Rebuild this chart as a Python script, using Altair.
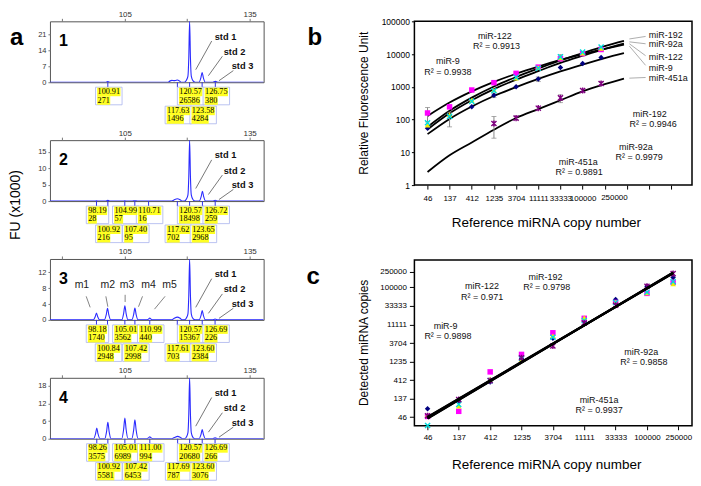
import altair as alt
import pandas as pd

# ------------------------------------------------------------------ data
# Panel a: electropherogram traces (size in nt, FU x1000)
A1_X = [87, 100.3, 100.91, 101.5, 115.4, 115.9, 116.3, 116.8, 117.2, 117.63, 118.1, 118.5,
        119.3, 119.8, 120.17, 120.37, 120.57, 120.77, 120.97, 121.4, 121.9,
        122.83, 123.28, 123.58, 123.88, 124.33, 126.15, 126.75, 127.35, 138.36]
A1_Y = [0, 0, 0.27, 0, 0, 0.6, 0.8, 0.7, 0.8, 1.0, 0.6, 0,
        0, 0.9, 2.7, 10.7, 26.8, 10.7, 2.7, 0.6, 0,
        0, 1.93, 4.28, 1.93, 0, 0, 0.38, 0, 0]
A2_X = [87, 97.6, 98.19, 98.8, 100.3, 100.92, 101.5, 104.4, 104.99, 105.6, 106.8, 107.4, 108.0,
        110.1, 110.71, 111.3, 116.2, 116.8, 117.62, 118.3, 118.8,
        119.3, 119.8, 120.17, 120.37, 120.57, 120.77, 120.97, 121.4, 121.9,
        122.9, 123.35, 123.65, 123.95, 124.4, 126.1, 126.72, 127.3, 138.36]
A2_Y = [0, 0, 0.05, 0, 0, 0.22, 0, 0, 0.06, 0, 0, 0.1, 0,
        0, 0.03, 0, 0, 0.35, 0.7, 0.4, 0,
        0, 0.6, 1.85, 7.4, 18.5, 7.4, 1.85, 0.4, 0,
        0, 1.34, 2.97, 1.34, 0, 0, 0.26, 0, 0]
A3_X = [87, 97.43, 97.88, 98.18, 98.48, 98.93, 100.09, 100.54, 100.84, 101.14, 101.59,
        104.26, 104.71, 105.01, 105.31, 105.76, 106.67, 107.12, 107.42, 107.72, 108.17,
        110.24, 110.69, 110.99, 111.29, 111.74, 116.2, 116.8, 117.61, 118.3, 118.8,
        119.3, 119.8, 120.17, 120.37, 120.57, 120.77, 120.97, 121.4, 121.9,
        122.85, 123.3, 123.6, 123.9, 124.35, 126.1, 126.69, 127.3, 138.36]
A3_Y = [0, 0, 0.78, 1.74, 0.78, 0, 0, 1.33, 2.95, 1.33, 0,
        0, 1.6, 3.56, 1.6, 0, 0, 1.35, 3.0, 1.35, 0,
        0, 0.2, 0.44, 0.2, 0, 0, 0.35, 0.7, 0.4, 0,
        0, 0.5, 1.54, 6.15, 15.37, 6.15, 1.54, 0.3, 0,
        0, 1.07, 2.38, 1.07, 0, 0, 0.23, 0, 0]
A4_X = [87, 97.51, 97.96, 98.26, 98.56, 99.01, 100.17, 100.62, 100.92, 101.22, 101.67,
        104.26, 104.71, 105.01, 105.31, 105.76, 106.67, 107.12, 107.42, 107.72, 108.17,
        110.25, 110.7, 111.0, 111.3, 111.75, 116.3, 116.9, 117.69, 118.35, 118.85,
        119.3, 119.8, 120.17, 120.37, 120.57, 120.77, 120.97, 121.4, 121.9,
        122.85, 123.3, 123.6, 123.9, 124.35, 126.1, 126.69, 127.3, 138.36]
A4_Y = [0, 0, 1.61, 3.58, 1.61, 0, 0, 2.51, 5.58, 2.51, 0,
        0, 3.15, 6.99, 3.15, 0, 0, 2.9, 6.45, 2.9, 0,
        0, 0.3, 0.65, 0.3, 0, 0, 0.4, 0.79, 0.45, 0,
        0, 0.6, 2.07, 8.27, 20.68, 8.27, 2.07, 0.4, 0,
        0, 1.39, 3.08, 1.39, 0, 0, 0.27, 0, 0]
A_X = [A1_X, A2_X, A3_X, A4_X]
A_Y = [A1_Y, A2_Y, A3_Y, A4_Y]
A_YMAX = [26.8, 18.5, 15.37, 20.68]
A_YTICKS = [[0, 7, 14, 21], [0, 5, 10, 15], [0, 4, 8, 12], [0, 6, 12, 18]]
A_TOPTICKS = [90, 105, 120, 135]
A_TOPLABELS = [105, 135]
# peak-call boxes: (size, area, row)
A1_PEAKS = [(100.91, 271, 1), (120.57, 26586, 1), (126.75, 380, 1),
            (117.63, 1496, 2), (123.58, 4284, 2)]
A2_PEAKS = [(98.19, 28, 1), (104.99, 57, 1), (110.71, 16, 1), (120.57, 18498, 1), (126.72, 259, 1),
            (100.92, 216, 2), (107.40, 95, 2), (117.62, 702, 2), (123.65, 2968, 2)]
A3_PEAKS = [(98.18, 1740, 1), (105.01, 3562, 1), (110.99, 440, 1), (120.57, 15367, 1), (126.69, 226, 1),
            (100.84, 2948, 2), (107.42, 2998, 2), (117.61, 703, 2), (123.60, 2384, 2)]
A4_PEAKS = [(98.26, 3575, 1), (105.01, 6989, 1), (111.00, 994, 1), (120.57, 20680, 1), (126.69, 266, 1),
            (100.92, 5581, 2), (107.42, 6453, 2), (117.69, 787, 2), (123.60, 3076, 2)]
A_PEAKS = [A1_PEAKS, A2_PEAKS, A3_PEAKS, A4_PEAKS]
STD_NAMES = ["std 1", "std 2", "std 3"]
M_NAMES = ["m1", "m2", "m3", "m4", "m5"]

# Panels b and c
SERIES = ["miR-9", "miR-122", "miR-192", "miR-92a", "miR-451a"]
COPIES = [46, 137, 412, 1235, 3704, 11111, 33333, 100000, 250000]
TICK_LABELS = ["46", "137", "412", "1235", "3704", "11111", "33333", "100000", "250000"]
B_XTICKS = [46, 137, 412, 1235, 3704, 11111, 33333, 100000, 300000, 900000, 2700000, 8100000]
B_LAST_LABEL_AT = 484000   # where the squeezed "250000" label sits on panel b's axis
B_YTICKS = [1, 10, 100, 1000, 10000, 100000]
B_PTS = {
    "miR-9":    [54, 133, 245, 550, 1000, 1730, 3870, 5150, 7900],
    "miR-122":  [159, 245, 800, 1340, 2580, 4000, 7200, 10300, 13800],
    "miR-192":  [68, 143, 392, 800, 1850, 3870, 7600, 10700, 14800],
    "miR-92a":  [80, 125, 360, 760, 1950, 3700, 8200, 11500, 16500],
    "miR-451a": [None, None, None, 76, 111, 223, 460, 770, 1260],
}
B_FIT_X = [46, 137, 412, 1235, 3704, 11111, 33333, 100000, 300000, 776000]
B_FIT = {
    "miR-9":    [36, 105, 251, 525, 977, 1738, 2951, 4786, 7586, 10715],
    "miR-122":  [129, 331, 724, 1413, 2512, 4169, 6607, 10000, 14454, 19498],
    "miR-192":  [60, 186, 468, 1023, 1995, 3631, 6457, 10715, 17378, 25119],
    "miR-92a":  [50, 155, 389, 851, 1660, 3020, 5370, 8913, 14454, 20893],
    "miR-451a": [2.5, 8.1, 20, 49, 112, 209, 389, 724, 1202, 1778],
}
B_ERR = [("miR-122", 46, 85, 234), ("miR-192", 137, 60, 167), ("miR-451a", 1235, 27, 124),
         ("miR-92a", 33333, 6700, 9600), ("miR-451a", 33333, 330, 570), ("miR-9", 11111, 1450, 2000),
         ("miR-451a", 250000, 1100, 1420), ("miR-451a", 3704, 98, 128), ("miR-9", 1235, 470, 640)]
B_R2 = {"miR-9": "0.9938", "miR-122": "0.9913", "miR-192": "0.9946", "miR-92a": "0.9979", "miR-451a": "0.9891"}
B_END_ORDER = ["miR-192", "miR-92a", "miR-122", "miR-9", "miR-451a"]

C_XTICKS = [46, 137, 412, 1235, 3704, 11111, 33333, 100000, 300000]
C_YTICKS = [46, 137, 412, 1235, 3704, 11111, 33333, 100000, 250000]
C_PTS = {
    "miR-9":    [76, 118, 368, 1500, 4900, 13000, 49000, 107000, 180000],
    "miR-122":  [48, 65, 672, 1890, 6800, 16000, 41000, 70000, 134000],
    "miR-192":  [52, 88, 440, 1380, 5700, 16600, 42000, 72000, 123000],
    "miR-92a":  [28, 98, 400, 1500, 5200, 14000, 41000, 75000, 140000],
    "miR-451a": [50, 130, 400, 1550, 3100, 12100, 34700, 107000, 225000],
}
C_FIT_X = [46, 250000]
C_FIT = {"miR-9": [46, 228000], "miR-122": [42, 240000], "miR-192": [44, 235000],
         "miR-92a": [47, 232000], "miR-451a": [43, 242000]}
C_R2 = {"miR-9": "0.9898", "miR-122": "0.971", "miR-192": "0.9798", "miR-92a": "0.9858", "miR-451a": "0.9937"}

# ------------------------------------------------------------------ style / layout
FONT = "Liberation Sans"
SERIF = "Liberation Serif"
WA, HA = 214, 61
WB, HB = 278, 164
WC, HC = 278, 166
XA = (87.0, 138.36)
PPU = WA / (XA[1] - XA[0])
FS = 8.2
LINE_H = 8.6
ROW_BASE = {1: 5.0, 2: 24.0}
SER_COLOR = {"miR-9": "#000080", "miR-122": "#ff00ff", "miR-192": "#eeee00",
             "miR-92a": "#00dddd", "miR-451a": "#800080"}
SER_SHAPE = {"miR-9": "diamond", "miR-122": "square", "miR-192": "triangle-up",
             "miR-92a": "M-1,-1L1,1M-1,1L1,-1", "miR-451a": "M-1,-1L1,1M-1,1L1,-1M0,-1.2L0,1.2"}
SER_FILLED = {"miR-9": True, "miR-122": True, "miR-192": True, "miR-92a": False, "miR-451a": False}
GUARD = pd.DataFrame({"g": [0]})


def text_w(s):
    return sum(0.5 * FS if ch.isdigit() else 0.25 * FS for ch in s)


def label_expr(ticks, labels):
    expr = ""
    for t, l in zip(ticks, labels):
        expr += f"datum.value < {t * 1.02} ? '{l}' : "
    return expr + "''"


def guard(x, y_top):
    return alt.Chart(GUARD).mark_rule(opacity=0, strokeWidth=1).encode(
        x=alt.value(x), y=alt.value(y_top), y2=alt.value(1))


def px_text(df, **kw):
    return alt.Chart(df).mark_text(**kw).encode(
        x=alt.X("px:Q", scale=None), y=alt.Y("py:Q", scale=None), text="t:N")


def px_rule(df, **kw):
    return alt.Chart(df).mark_rule(**kw).encode(
        x=alt.X("px:Q", scale=None), y=alt.Y("py:Q", scale=None), x2="px2:Q", y2="py2:Q")


def a_panel(i):
    sy = HA / 68.0
    xsc = alt.Scale(domain=list(XA), nice=False, zero=False)
    ysc = alt.Scale(domain=[0, A_YMAX[i]], nice=False)
    cond = " || ".join(f"datum.value == {v}" for v in A_TOPLABELS)
    xax = alt.Axis(orient="top", values=A_TOPTICKS, labelExpr=f"({cond}) ? datum.label : ''",
                   tickSize=3, tickColor="#777", labelPadding=0, labelFontSize=8, labelColor="#333",
                   labelFont=FONT, domain=False, grid=False, title=None, labelFlush=False)
    yax = alt.Axis(values=A_YTICKS[i], tickSize=2, tickColor="#777", labelPadding=2, labelFontSize=7.5,
                   labelColor="#333", labelFont=FONT, domain=False, grid=False, title=None)

    def X(f):
        return alt.X(f, type="quantitative", scale=xsc, axis=xax)

    layers = [guard(-41, -12)]
    tr = pd.DataFrame({"x": A_X[i], "y": A_Y[i]})
    layers.append(alt.Chart(tr).mark_line(color="#2a2aff", strokeWidth=1.1, interpolate="monotone",
                                          clip=True).encode(
        x=X("x"), y=alt.Y("y", type="quantitative", scale=ysc, axis=yax)))

    boxes, lines = [], []
    for pos, area, row in A_PEAKS[i]:
        t1, t2 = f"{pos:.2f}", str(area)
        w1, w2 = text_w(t1), text_w(t2)
        w = max(w1, w2)
        left = pos + (1.0 - w / 2) / PPU
        base = HA + ROW_BASE[row]
        boxes.append(dict(pos=pos, x1=left - 2 / PPU, x2=left + (w + 2) / PPU,
                          y1=base, y2=base + 2 * LINE_H + 0.4))
        for t, tw, off in ((t1, w1, 0.0), (t2, w2, LINE_H)):
            lines.append(dict(t=t, tx=left, x1=left - 0.4 / PPU, x2=left + (tw + 0.4) / PPU,
                              y1=base + 0.4 + off, y2=base + 0.4 + LINE_H + off,
                              ty=base + 0.4 + LINE_H / 2 + off))
    bdf, ldf = pd.DataFrame(boxes), pd.DataFrame(lines)
    layers.append(alt.Chart(bdf).mark_rule(color="#3030e8", strokeWidth=1).encode(
        x=X("pos"), y=alt.value(HA), y2=alt.value(HA + 5)))
    layers.append(alt.Chart(bdf).mark_rect(fill="white", stroke="#aab4ee", strokeWidth=0.8).encode(
        x=X("x1"), x2="x2:Q", y=alt.Y("y1:Q", scale=None), y2="y2:Q"))
    layers.append(alt.Chart(ldf).mark_rect(fill="#ffff22").encode(
        x=X("x1"), x2="x2:Q", y=alt.Y("y1:Q", scale=None), y2="y2:Q"))
    layers.append(alt.Chart(ldf).mark_text(align="left", baseline="middle", font=SERIF, fontSize=FS,
                                           color="black").encode(
        x=X("tx"), y=alt.Y("ty:Q", scale=None), text="t:N"))

    std_t = pd.DataFrame({"t": STD_NAMES, "px": [165, 174, 182], "py": [17 * sy, 34 * sy, 50 * sy]})
    std_l = pd.DataFrame({"px": [162, 172.7, 183.7], "py": [22 * sy, 39 * sy, 55 * sy],
                          "px2": [146, 158.7, 169.3], "py2": [54 * sy, 60.7 * sy, 66.3 * sy]})
    layers.append(px_rule(std_l, color="#555", strokeWidth=0.8))
    layers.append(px_text(std_t, align="left", baseline="middle", font=FONT, fontSize=9.3,
                          fontWeight="bold", color="#111"))
    num = pd.DataFrame({"t": [str(i + 1)], "px": [9], "py": [22.5 * sy]})
    layers.append(px_text(num, align="left", baseline="middle", font=FONT, fontSize=16,
                          fontWeight="bold", color="black"))
    if i == 0:
        let = pd.DataFrame({"t": ["a"], "px": [-40], "py": [24]})
        layers.append(px_text(let, align="left", baseline="alphabetic", font=FONT, fontSize=24,
                              fontWeight="bold", color="black"))
    if i == 1:
        fu = pd.DataFrame({"t": ["FU (x1000)"], "px": [-33.8], "py": [HA + 4]})
        layers.append(px_text(fu, align="center", baseline="middle", angle=270, font=FONT,
                              fontSize=14, color="black"))
    if i == 2:
        mt = pd.DataFrame({"t": M_NAMES, "px": [32, 58, 77.3, 98.7, 119.7], "py": [29 * sy] * 5})
        ml = pd.DataFrame({"px": [36.3, 56, 75.3, 92.7, 115.3],
                           "py": [41.7 * sy, 41.7 * sy, 40 * sy, 41.7 * sy, 41.7 * sy],
                           "px2": [40.3, 58, 75.3, 88.7, 104.7],
                           "py2": [54 * sy, 53.3 * sy, 48 * sy, 53.3 * sy, 56 * sy]})
        layers.append(px_rule(ml, color="#666", strokeWidth=0.8))
        layers.append(px_text(mt, align="center", baseline="middle", font=FONT, fontSize=10.5,
                              color="#222"))
    return alt.layer(*layers).properties(
        width=WA, height=HA, view=alt.ViewBackground(stroke="#555", strokeWidth=1))


def series_points(pts, xvals, X, Y):
    out = []
    for s in SERIES:
        rows = [dict(x=x, y=y) for x, y in zip(xvals, pts[s]) if y is not None]
        df = pd.DataFrame(rows)
        if SER_FILLED[s]:
            mk = alt.Chart(df).mark_point(shape=SER_SHAPE[s], filled=True, size=30, opacity=1,
                                          color=SER_COLOR[s])
        else:
            mk = alt.Chart(df).mark_point(shape=SER_SHAPE[s], filled=False, size=26, opacity=1,
                                          strokeWidth=1.4, color=SER_COLOR[s])
        out.append(mk.encode(x=X("x"), y=Y("y")))
    return out


def b_panel():
    bx = lambda px: (px - 412.3) * WB / 285.4
    by = lambda py: (py - 11.0) * HB / 170.0
    xsc = alt.Scale(type="log", domain=[24.0, 22.6e6], nice=False)
    ysc = alt.Scale(type="log", domain=[1, 100000], nice=False)
    xax = alt.Axis(values=B_XTICKS, labelExpr=label_expr(B_XTICKS, TICK_LABELS[:8] + [""] * 4),
                   tickSize=4, tickColor="black", labelPadding=5, labelFontSize=8, labelColor="black",
                   labelFont=FONT, domain=False, grid=False, title=None, labelFlush=False,
                   labelOverlap=False, labelBound=False)
    yax = alt.Axis(values=B_YTICKS, format="d", tickSize=3, tickColor="black", labelPadding=2,
                   labelFontSize=8.5, labelColor="black", labelFont=FONT, domain=False, grid=False,
                   title=None, labelOverlap=False, labelFlush=False)
    X = lambda f: alt.X(f, type="quantitative", scale=xsc, axis=xax)
    Y = lambda f: alt.Y(f, type="quantitative", scale=ysc, axis=yax)

    layers = [guard(-108, -12)]
    fit = pd.DataFrame([dict(series=s, x=x, y=y) for s in SERIES for x, y in zip(B_FIT_X, B_FIT[s])])
    layers.append(alt.Chart(fit).mark_line(color="black", strokeWidth=1.8, interpolate="monotone").encode(
        x=X("x"), y=Y("y"), detail="series:N"))
    err = pd.DataFrame(B_ERR, columns=["series", "x", "lo", "hi"])
    layers.append(alt.Chart(err).mark_rule(color="#888", strokeWidth=1).encode(x=X("x"), y=Y("lo"), y2="hi:Q"))
    layers.append(alt.Chart(err).mark_tick(color="#888", orient="horizontal", size=5, thickness=1).encode(
        x=X("x"), y=Y("lo")))
    layers.append(alt.Chart(err).mark_tick(color="#888", orient="horizontal", size=5, thickness=1).encode(
        x=X("x"), y=Y("hi")))
    layers += series_points(B_PTS, COPIES, X, Y)
    # the last tick label, squeezed to the right of its neighbour as in the original
    lastlab = pd.DataFrame({"x": [B_LAST_LABEL_AT], "t": [TICK_LABELS[8]]})
    layers.append(alt.Chart(lastlab).mark_text(align="center", baseline="top", font=FONT, fontSize=8,
                                               color="black").encode(
        x=X("x"), y=alt.value(HB + 9), text="t:N"))

    pos = {"miR-122": (495.0, 26.0, 496.7, 36.7), "miR-9": (446.7, 52.7, 446.7, 63.3),
           "miR-192": (654.3, 107.3, 657.7, 117.3), "miR-92a": (640.0, 141.7, 643.3, 151.7),
           "miR-451a": (580.7, 157.3, 581.7, 167.7)}
    ann = []
    for s, (x1, y1, x2, y2) in pos.items():
        ann.append(dict(t=s, px=bx(x1), py=by(y1)))
        ann.append(dict(t="R\u00b2 = " + B_R2[s], px=bx(x2), py=by(y2)))
    layers.append(px_text(pd.DataFrame(ann), align="center", baseline="middle", font=FONT,
                          fontSize=9, color="#111"))
    ends_y = [25.7, 35.0, 47.7, 59.0, 70.0]
    l_from = [29.3, 32.3, 34.3, 36.7, 70.0]
    l_to = [26.7, 34.3, 46.7, 56.7, 69.3]
    et = pd.DataFrame({"t": B_END_ORDER, "px": [bx(653.3)] * 5, "py": [by(v) for v in ends_y]})
    el = pd.DataFrame({"px": [bx(633.3)] * 5, "py": [by(v) for v in l_from],
                       "px2": [bx(650.0)] * 5, "py2": [by(v) for v in l_to]})
    layers.append(px_rule(el, color="#999", strokeWidth=0.8))
    layers.append(px_text(et, align="left", baseline="middle", font=FONT, fontSize=9, color="#111"))
    tt = pd.DataFrame({"t": ["Relative Fluorescence Unit"], "px": [-50], "py": [HB / 2]})
    layers.append(px_text(tt, align="center", baseline="middle", angle=270, font=FONT,
                          fontSize=12, color="black"))
    xt = pd.DataFrame({"t": ["Reference miRNA copy number"], "px": [bx(548)], "py": [HB + 38]})
    layers.append(px_text(xt, align="center", baseline="middle", font=FONT, fontSize=13.5,
                          color="black"))
    let = pd.DataFrame({"t": ["b"], "px": [-107], "py": [24]})
    layers.append(px_text(let, align="left", baseline="alphabetic", font=FONT, fontSize=24,
                          fontWeight="bold", color="black"))
    return alt.layer(*layers).properties(
        width=WB, height=HB, view=alt.ViewBackground(stroke="black", strokeWidth=1.5))


def c_panel():
    cx = lambda px: (px - 412.3) * WC / 284.7
    cy = lambda py: (py - 260.7) * HC / 173.3
    xsc = alt.Scale(type="log", domain=[29.0, 484000], nice=False)
    ysc = alt.Scale(type="log", domain=[27.7, 505800], nice=False)
    xax = alt.Axis(values=C_XTICKS, labelExpr=label_expr(C_XTICKS, TICK_LABELS),
                   tickSize=4, tickColor="black", labelPadding=4, labelFontSize=8, labelColor="black",
                   labelFont=FONT, domain=False, grid=False, title=None, labelFlush=False,
                   labelOverlap=False, labelBound=False)
    yax = alt.Axis(values=C_YTICKS, format="d", tickSize=5, tickColor="black", labelPadding=3,
                   labelFontSize=8, labelColor="black", labelFont=FONT, domain=False, grid=False,
                   title=None, labelOverlap=False, labelFlush=False)
    X = lambda f: alt.X(f, type="quantitative", scale=xsc, axis=xax)
    Y = lambda f: alt.Y(f, type="quantitative", scale=ysc, axis=yax)

    layers = [guard(-108, 0)]
    layers += series_points(C_PTS, COPIES, X, Y)
    fit = pd.DataFrame([dict(series=s, x=x, y=y) for s in SERIES for x, y in zip(C_FIT_X, C_FIT[s])])
    layers.append(alt.Chart(fit).mark_line(color="black", strokeWidth=2).encode(
        x=X("x"), y=Y("y"), detail="series:N"))
    pos = {"miR-192": (546.7, 279.0, 548.0, 289.3), "miR-122": (481.7, 288.3, 481.7, 299.0),
           "miR-9": (444.3, 330.0, 446.7, 340.0), "miR-92a": (645.0, 356.7, 647.7, 367.7),
           "miR-451a": (601.7, 407.3, 601.7, 417.7)}
    ann = []
    for s, (x1, y1, x2, y2) in pos.items():
        ann.append(dict(t=s, px=cx(x1), py=cy(y1)))
        ann.append(dict(t="R\u00b2 = " + C_R2[s], px=cx(x2), py=cy(y2)))
    layers.append(px_text(pd.DataFrame(ann), align="center", baseline="middle", font=FONT,
                          fontSize=9, color="#111"))
    tt = pd.DataFrame({"t": ["Detected miRNA copies"], "px": [-50], "py": [HC / 2]})
    layers.append(px_text(tt, align="center", baseline="middle", angle=270, font=FONT,
                          fontSize=12, color="black"))
    xt = pd.DataFrame({"t": ["Reference miRNA copy number"], "px": [cx(548)], "py": [HC + 39]})
    layers.append(px_text(xt, align="center", baseline="middle", font=FONT, fontSize=13.5,
                          color="black"))
    let = pd.DataFrame({"t": ["c"], "px": [-108], "py": [23.6]})
    layers.append(px_text(let, align="left", baseline="alphabetic", font=FONT, fontSize=24,
                          fontWeight="bold", color="black"))
    return alt.layer(*layers).properties(
        width=WC, height=HC, view=alt.ViewBackground(stroke="black", strokeWidth=1.5))


left = alt.vconcat(*[a_panel(i) for i in range(4)], spacing=2)
right = alt.vconcat(b_panel(), c_panel(), spacing=28)
chart = alt.hconcat(left, right, spacing=41).properties(
    padding=0, background="white").configure(font=FONT)

chart.save("out.html", embed_options={"renderer": "svg", "actions": False})
